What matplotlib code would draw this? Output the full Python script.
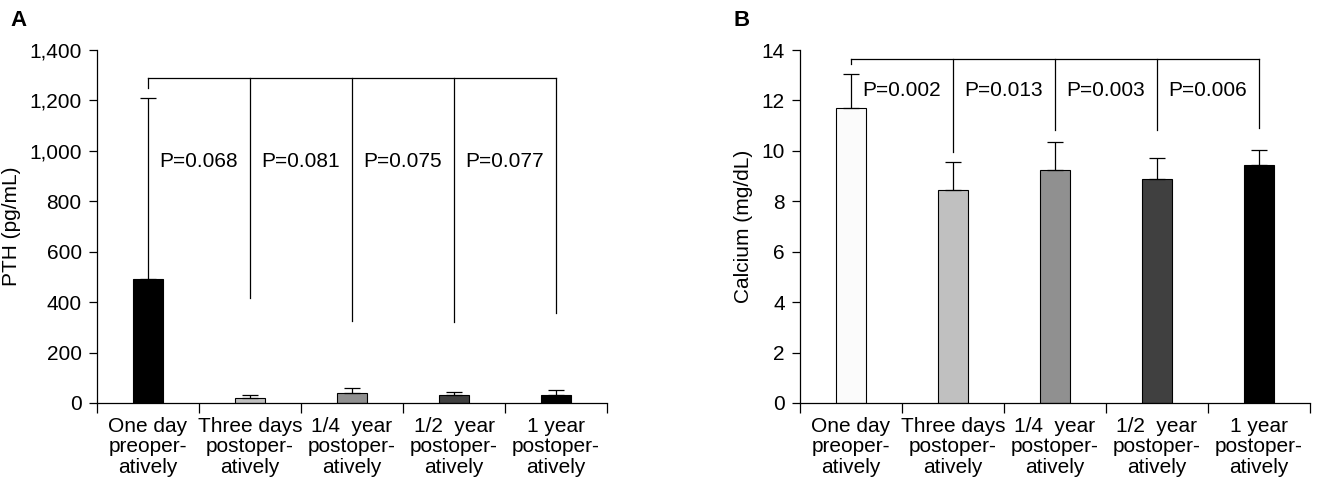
import matplotlib.pyplot as plt
import numpy as np

plt.rcParams['font.family'] = ['Liberation Sans', 'DejaVu Sans']

categories = ['One day\npreoper-\natively', 'Three days\npostoper-\natively',
              '1/4  year\npostoper-\natively', '1/2  year\npostoper-\natively',
              '1 year\npostoper-\natively']

# panel A: PTH
pth_mean = [490, 18, 38, 30, 33]
pth_err = [720, 15, 20, 15, 20]
pth_p = ['P=0.068', 'P=0.081', 'P=0.075', 'P=0.077']
pth_colors = ['#000000', '#c0c0c0', '#909090', '#404040', '#000000']
pth_yticks = [0, 200, 400, 600, 800, 1000, 1200, 1400]
pth_bracket_top = 1290
pth_drop_ends = [1250, 416, 325, 321, 357]
pth_p_y = 956

# panel B: calcium
ca_mean = [11.7, 8.45, 9.25, 8.9, 9.45]
ca_err = [1.35, 1.1, 1.1, 0.8, 0.6]
ca_p = ['P=0.002', 'P=0.013', 'P=0.003', 'P=0.006']
ca_colors = ['#fbfbfb', '#c0c0c0', '#909090', '#404040', '#000000']
ca_yticks = [0, 2, 4, 6, 8, 10, 12, 14]
ca_bracket_top = 13.64
ca_drop_ends = [13.45, 9.95, 10.83, 10.83, 10.9]
ca_p_y = 12.41

fig = plt.figure(figsize=(13.18, 4.84), dpi=100)
axA = fig.add_axes([97 / 1318, 1 - 403 / 484, 510 / 1318, 353 / 484])
axB = fig.add_axes([800 / 1318, 1 - 403 / 484, 510 / 1318, 353 / 484])

FS = 15


def draw_panel(ax, means, errs, colors, yticks, ylabel, pvals, top, drops, py, fmt):
    x = np.arange(len(means))
    ax.bar(x, means, width=0.3, color=colors, edgecolor='black', linewidth=0.8, zorder=2)
    ax.errorbar(x, means, yerr=[np.zeros(len(errs)), errs], fmt='none',
                ecolor='black', elinewidth=0.9, capsize=6, capthick=0.9, zorder=3)

    # bracket with drop lines
    ax.plot([x[0], x[-1]], [top, top], color='black', lw=0.9)
    for xi, yd in zip(x, drops):
        ax.plot([xi, xi], [top, yd], color='black', lw=0.9)
    for i, p in enumerate(pvals):
        ax.text(i + 0.5, py, p, ha='center', va='center', fontsize=FS)

    ax.set_xlim(-0.5, len(means) - 0.5)
    ax.set_ylim(yticks[0], yticks[-1])
    ax.set_yticks(yticks)
    ax.set_yticklabels([fmt(v) for v in yticks], fontsize=FS)
    ax.set_xticks(np.arange(-0.5, len(means)), labels=[''] * (len(means) + 1))
    ax.set_xticks(x, labels=categories, minor=True, fontsize=FS)
    ax.tick_params(axis='x', which='major', direction='out', length=7, width=0.9)
    ax.tick_params(axis='x', which='minor', length=0, pad=10)
    ax.tick_params(axis='y', direction='out', length=6, width=0.9, pad=5)
    for lab in ax.get_xticklabels(minor=True):
        lab.set_linespacing(1.1)
    ax.spines['top'].set_visible(False)
    ax.spines['right'].set_visible(False)
    ax.spines['left'].set_linewidth(0.9)
    ax.spines['bottom'].set_linewidth(0.9)
    ax.set_ylabel(ylabel, fontsize=FS, labelpad=6)


draw_panel(axA, pth_mean, pth_err, pth_colors, pth_yticks, 'PTH (pg/mL)',
           pth_p, pth_bracket_top, pth_drop_ends, pth_p_y, lambda v: f'{v:,}')
draw_panel(axB, ca_mean, ca_err, ca_colors, ca_yticks, 'Calcium (mg/dL)',
           ca_p, ca_bracket_top, ca_drop_ends, ca_p_y, lambda v: f'{v}')

fig.text(10 / 1318, 1 - 20 / 484, 'A', fontsize=16, fontweight='bold', va='center')
fig.text(733 / 1318, 1 - 20 / 484, 'B', fontsize=16, fontweight='bold', va='center')

fig.savefig('out.png', dpi=100)
